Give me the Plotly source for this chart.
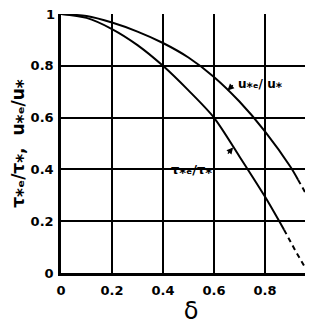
import plotly.graph_objects as go

# u*e/u* curve (solid part, then dashed extrapolation)
u_x = [0, 0.1, 0.2, 0.3, 0.4, 0.5, 0.6, 0.7, 0.8, 0.9, 0.93]
u_y = [1, 0.992, 0.967, 0.932, 0.888, 0.832, 0.757, 0.662, 0.547, 0.41, 0.36]
u_dash_x = [0.93, 0.96, 0.99]
u_dash_y = [0.36, 0.31, 0.255]

# tau*e/tau* curve
t_x = [0, 0.1, 0.2, 0.3, 0.4, 0.5, 0.6, 0.7, 0.8, 0.875]
t_y = [1, 0.985, 0.942, 0.88, 0.8, 0.705, 0.6, 0.45, 0.295, 0.167]
t_dash_x = [0.875, 0.92, 0.97]
t_dash_y = [0.167, 0.085, 0.0]

x_ticks = [0, 0.2, 0.4, 0.6, 0.8]
x_tick_text = ["0", "0.2", "0.4", "0.6", "0.8"]
y_ticks = [0, 0.2, 0.4, 0.6, 0.8, 1.0]
y_tick_text = ["0", "0.2", "0.4", "0.6", "0.8", "1"]

FONT = "DejaVu Sans"
TICKFONT = dict(family=FONT, size=13, weight="bold")

fig = go.Figure()
fig.add_trace(go.Scatter(x=u_x, y=u_y, mode="lines", line=dict(color="black", width=2, shape="spline", smoothing=0.8)))
fig.add_trace(go.Scatter(x=u_dash_x, y=u_dash_y, mode="lines", line=dict(color="black", width=2, dash="5px,4px")))
fig.add_trace(go.Scatter(x=t_x, y=t_y, mode="lines", line=dict(color="black", width=2, shape="spline", smoothing=0.8)))
fig.add_trace(go.Scatter(x=t_dash_x, y=t_dash_y, mode="lines", line=dict(color="black", width=2, dash="5px,4px")))

fig.update_layout(
    width=313, height=324,
    margin=dict(l=53, r=0, t=6, b=59, autoexpand=False),
    paper_bgcolor="white", plot_bgcolor="white",
    showlegend=False,
    font=dict(family=FONT, color="black", size=12),
)
fig.update_xaxes(
    range=[0, 1.02], tickvals=x_ticks, ticktext=x_tick_text,
    showgrid=True, gridcolor="black", gridwidth=1.5,
    showline=True, linecolor="black", linewidth=2.5,
    ticks="", zeroline=False, automargin=False,
    tickfont=TICKFONT, ticklabelstandoff=4,
    title=dict(text="δ", font=dict(family=FONT, size=24), standoff=5),
)
fig.update_yaxes(
    range=[0, 1.0], tickvals=y_ticks, ticktext=y_tick_text,
    showgrid=True, gridcolor="black", gridwidth=1.5,
    showline=True, linecolor="black", linewidth=2.5,
    ticks="", zeroline=False, automargin=False,
    tickfont=TICKFONT, ticklabelstandoff=2,
    title=dict(text="τ⁎ₑ/τ⁎,  u⁎ₑ/u⁎",
               font=dict(family=FONT, size=17, weight="bold"), standoff=13),
)

# "1" tick labels at the plot's top and right edges
fig.add_annotation(x=0, y=1.0, xref="paper", yref="y", xanchor="right", xshift=-4,
                   text="1", showarrow=False, font=TICKFONT)
fig.add_annotation(x=1.0, y=0, xref="x", yref="y", yshift=-21, text="1", showarrow=False,
                   font=TICKFONT)

# curve labels with small arrows
fig.add_annotation(x=0.653, y=0.705, xref="x", yref="y", ax=0.68, ay=0.73, axref="x", ayref="y",
                   text="", showarrow=True, arrowhead=2, arrowsize=1, arrowwidth=1.3, arrowcolor="black")
fig.add_annotation(x=0.686, y=0.73, xref="x", yref="y", xanchor="left",
                   text="u⁎ₑ/ u⁎", showarrow=False,
                   font=dict(family=FONT, size=12, weight="bold"))
fig.add_annotation(x=0.675, y=0.485, xref="x", yref="y", ax=0.65, ay=0.455, axref="x", ayref="y",
                   text="", showarrow=True, arrowhead=2, arrowsize=1, arrowwidth=1.3, arrowcolor="black")
fig.add_annotation(x=0.51, y=0.40, xref="x", yref="y",
                   text="τ⁎ₑ/τ⁎", showarrow=False,
                   font=dict(family=FONT, size=13, weight="bold"))

fig.write_html("out.html")
